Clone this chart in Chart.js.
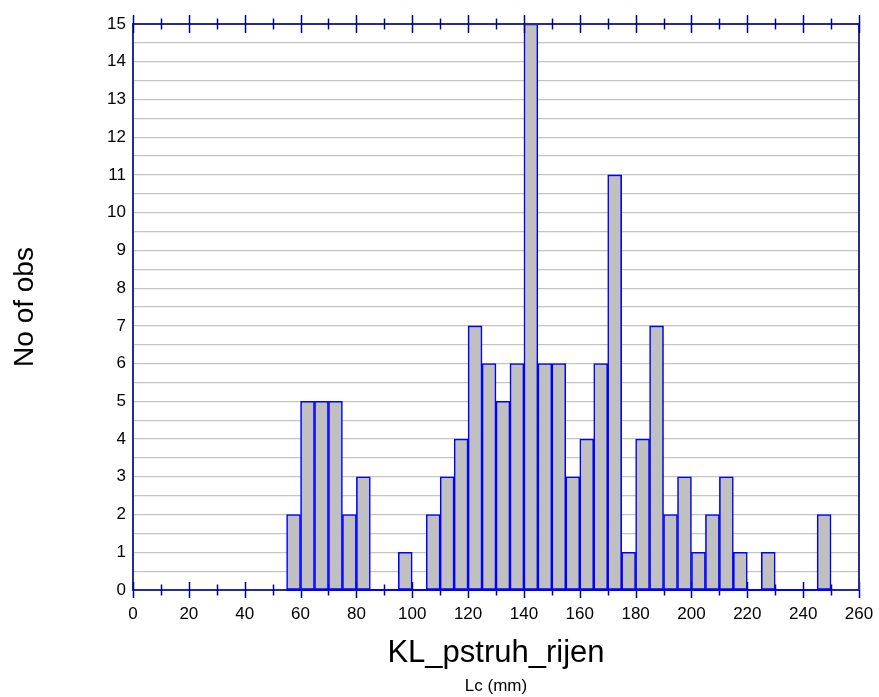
<!DOCTYPE html>
<html>
<head>
<meta charset="utf-8">
<script src="https://cdn.jsdelivr.net/npm/chart.js@4/dist/chart.umd.min.js"></script>
<style>
  html, body { margin: 0; padding: 0; background: #ffffff; }
  #wrap { width: 879px; height: 697px; }
</style>
</head>
<body>
<div id="wrap"><canvas id="hist" width="879" height="697"></canvas></div>
<script>
// Histogram of carapace length (Lc, mm), 5 mm classes
const binFrom = [55, 60, 65, 70, 75, 80, 85, 90, 95, 100,
                 105, 110, 115, 120, 125, 130, 135, 140, 145, 150,
                 155, 160, 165, 170, 175, 180, 185, 190, 195, 200,
                 205, 210, 215, 220, 225, 230, 235, 240, 245];
const counts  = [2, 5, 5, 5, 2, 3, 0, 0, 1, 0,
                 2, 3, 4, 7, 6, 5, 6, 15, 6, 6,
                 3, 4, 6, 11, 1, 4, 7, 2, 3, 1,
                 2, 3, 1, 0, 1, 0, 0, 0, 2];
const binWidth = 5;
const xTickValues = [0, 20, 40, 60, 80, 100, 120, 140, 160, 180, 200, 220, 240, 260];
const yTickValues = [0, 1, 2, 3, 4, 5, 6, 7, 8, 9, 10, 11, 12, 13, 14, 15];

const AXIS = '#2a2a96';
const TICK = '#000080';
const BAR_EDGE = '#0000ff';
const FONT = "'Liberation Sans', Arial, sans-serif";

// frame: top axis with ticks, right axis, crossing tick marks, blue baseline under the bins
const framePlugin = {
  id: 'frame',
  beforeDatasetsDraw(chart) {
    const { ctx, chartArea: a, scales: { x } } = chart;
    ctx.save();
    ctx.strokeStyle = TICK;
    ctx.lineWidth = 1.5;
    for (let v = 0; v <= 260; v += 10) {
      const px = Math.round(x.getPixelForValue(v)) + 0.5;
      const h = v % 20 === 0 ? 8 : 5.5;
      ctx.beginPath();
      ctx.moveTo(px, a.bottom - h);
      ctx.lineTo(px, a.bottom + h);
      ctx.stroke();
    }
    ctx.restore();
  },
  afterDatasetsDraw(chart) {
    const { ctx, chartArea: a, scales: { x } } = chart;
    ctx.save();
    // blue baseline across the class range
    ctx.strokeStyle = BAR_EDGE;
    ctx.lineWidth = 2;
    ctx.beginPath();
    ctx.moveTo(x.getPixelForValue(binFrom[0]), a.bottom);
    ctx.lineTo(x.getPixelForValue(binFrom[binFrom.length - 1] + binWidth), a.bottom);
    ctx.stroke();
    // top and right axis lines
    ctx.strokeStyle = AXIS;
    ctx.lineWidth = 2;
    ctx.beginPath();
    ctx.moveTo(a.left, a.top);
    ctx.lineTo(a.right, a.top);
    ctx.moveTo(a.right, a.top);
    ctx.lineTo(a.right, a.bottom);
    ctx.stroke();
    // top axis ticks
    ctx.strokeStyle = TICK;
    ctx.lineWidth = 1.5;
    for (let v = 0; v <= 260; v += 10) {
      const px = Math.round(x.getPixelForValue(v)) + 0.5;
      const h = v % 20 === 0 ? 9 : 5.5;
      ctx.beginPath();
      ctx.moveTo(px, a.top - h);
      ctx.lineTo(px, a.top + h);
      ctx.stroke();
    }
    ctx.restore();
  }
};

new Chart(document.getElementById('hist'), {
  type: 'bar',
  data: {
    datasets: [{
      label: 'No of obs',
      data: binFrom.map((b, i) => ({ x: b + binWidth / 2, y: counts[i] })),
      backgroundColor: '#c0c0c0',
      borderColor: BAR_EDGE,
      borderWidth: 1.6,
      borderSkipped: false,
      barPercentage: 1,
      categoryPercentage: 1
    }]
  },
  options: {
    responsive: false,
    animation: false,
    layout: { padding: { top: 24, right: 20, left: 0, bottom: 0 } },
    plugins: {
      legend: { display: false },
      tooltip: { enabled: false },
      title: {
        display: true,
        position: 'bottom',
        fullSize: false,
        text: 'Lc (mm)',
        color: '#000000',
        font: { family: FONT, size: 17, weight: 'normal', lineHeight: 1.2 },
        padding: { top: 5, bottom: 0 }
      }
    },
    scales: {
      x: {
        type: 'linear',
        offset: false,
        min: 0,
        max: 260,
        afterBuildTicks(scale) { scale.ticks = xTickValues.map(v => ({ value: v })); },
        afterFit(scale) {
          scale.height = 81.6;
          scale.paddingLeft = 0;
          scale.paddingRight = 0;
        },
        grid: { display: false, drawTicks: false, offset: false },
        border: { display: true, color: AXIS, width: 2 },
        ticks: {
          color: '#000000',
          padding: 14,
          maxRotation: 0,
          autoSkip: false,
          font: { family: FONT, size: 17 }
        },
        title: {
          display: true,
          text: 'KL_pstruh_rijen',
          color: '#000000',
          font: { family: FONT, size: 31, lineHeight: 1.2 },
          padding: { top: 0, bottom: 0 }
        }
      },
      y: {
        min: 0,
        max: 15,
        ticks: {
          stepSize: 0.5,
          autoSkip: false,
          color: '#000000',
          padding: 7,
          font: { family: FONT, size: 17 },
          callback: v => (yTickValues.includes(v) ? String(v) : '')
        },
        afterFit(scale) { scale.width = 133; },
        grid: { color: '#c4c4c4', lineWidth: 1.2, drawTicks: false },
        border: { display: true, color: AXIS, width: 2 },
        title: {
          display: true,
          text: 'No of obs',
          color: '#000000',
          font: { family: FONT, size: 28, lineHeight: 1.2 },
          padding: { top: 8, bottom: 0 }
        }
      }
    }
  },
  plugins: [framePlugin]
});
</script>
</body>
</html>
